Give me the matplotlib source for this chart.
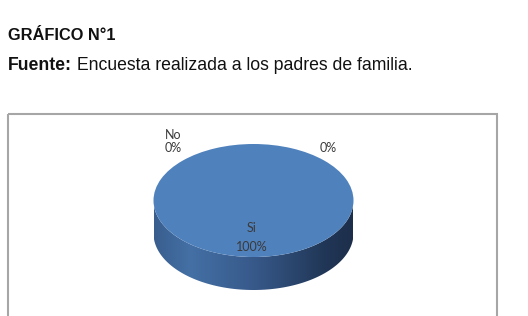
import matplotlib
matplotlib.use("Agg")
import matplotlib.pyplot as plt
import numpy as np
from matplotlib.patches import Rectangle, Polygon
from matplotlib.colors import LinearSegmentedColormap

# ---- data ----
categories = ["Si", "No", ""]
values = [100, 0, 0]
title = "GRÁFICO N°1"
source_bold = "Fuente:"
source_text = " Encuesta realizada a los padres de familia."

W, H = 528, 316
fig = plt.figure(figsize=(W / 100, H / 100), dpi=100)

# ---- 3D-looking pie ----
left, right, top, bottom = 153.5, 353.5, 144, 290
ax = fig.add_axes([left / W, 1 - bottom / H, (right - left) / W, (bottom - top) / H])
depth = 33 / 56.5

theta = np.linspace(np.pi, 2 * np.pi, 300)
xs = np.cos(theta)
ys = np.sin(theta)
poly_xy = np.concatenate([np.column_stack([xs, ys]),
                          np.column_stack([xs[::-1], ys[::-1] - depth])])
side = Polygon(poly_xy, closed=True, facecolor="none", edgecolor="none")
ax.add_patch(side)
cmap = LinearSegmentedColormap.from_list(
    "side", [(0.0, "#395e8e"), (0.18, "#4470a5"), (0.5, "#37598a"),
             (0.85, "#213757"), (1.0, "#1c2e4a")])
grad = np.linspace(0, 1, 256).reshape(1, -1)
im = ax.imshow(grad, cmap=cmap, extent=(-1, 1, -1 - depth, 0), aspect="auto",
               interpolation="bicubic", zorder=1)
im.set_clip_path(side)

wedges, _ = ax.pie(values, colors=["#4f81bd", "#c0504d", "#9bbb59"],
                   startangle=90, counterclock=False, radius=1, center=(0, 0),
                   frame=True, wedgeprops=dict(linewidth=0, zorder=2))
ax.set_aspect("auto")
ax.set_xlim(-1, 1)
ax.set_ylim(-1 - depth, 1)
ax.axis("off")

# overlay axes in pixel coordinates (above the pie)
ax0 = fig.add_axes([0, 0, 1, 1])
ax0.set_xlim(0, W)
ax0.set_ylim(H, 0)
ax0.axis("off")
ax0.set_zorder(5)

ax0.text(8, 40, title, fontfamily="Liberation Sans", fontweight="bold",
         fontsize=11.8, va="baseline", ha="left", color="#111111")
t1 = ax0.text(8, 70, source_bold, fontfamily="Liberation Sans", fontweight="bold",
              fontsize=12.7, va="baseline", ha="left", color="#111111")
fig.canvas.draw()
bb = t1.get_window_extent()
x_end = ax0.transData.inverted().transform((bb.x1, bb.y0))[0]
ax0.text(x_end, 70, source_text, fontfamily="Liberation Sans", fontsize=12.7,
         va="baseline", ha="left", color="#111111")

# chart frame
ax0.add_patch(Rectangle((8, 113.5), 489, 260, fill=False,
                        edgecolor="#a6a6a6", lw=1.5))

# ---- data labels ----
total = sum(values)
pcts = [f"{v / total * 100:.0f}%" for v in values]
label_pos = {0: ((252, 228), (252, 247)),
             1: ((173, 135), (173, 148)),
             2: ((328, 135), (328, 148))}
for i, (cat, pct) in enumerate(zip(categories, pcts)):
    (cx, cy), (px, py) = label_pos[i]
    if cat:
        ax0.text(cx, cy, cat, fontfamily="Lato", fontsize=9, ha="center",
                 va="center", color="#3a3a3a")
    ax0.text(px, py, pct, fontfamily="Lato", fontsize=9, ha="center",
             va="center", color="#3a3a3a")

fig.savefig("out.png", dpi=100)
